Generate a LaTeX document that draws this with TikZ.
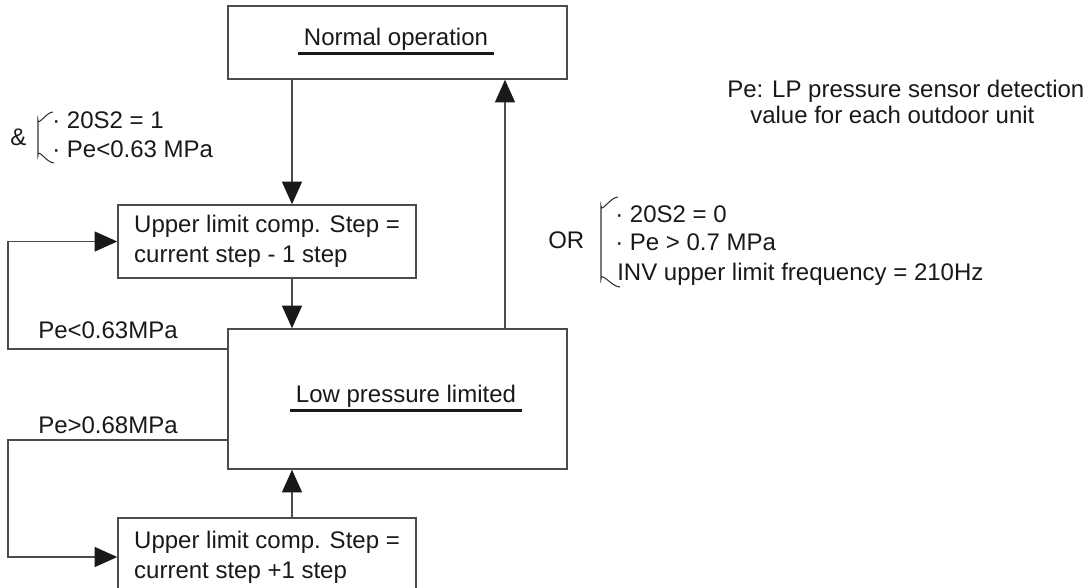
\documentclass[tikz,border=0pt]{standalone}
\usepackage{fontspec}
\setmainfont{Liberation Sans}
\usetikzlibrary{arrows.meta}

\tikzset{
	box/.style={draw=black!70, line width=1.1pt, rectangle, inner sep=0pt, align=left, text=black!90},
	flow/.style={draw=black!70, line width=1pt, -{Triangle[length=17pt,width=15pt,color=black!90]}},
	txt/.style={anchor=base west, inner sep=0pt, text=black!90},
	title/.style={anchor=base, inner xsep=4pt, inner ysep=2.25pt, text=black!90},
	uline/.style={line width=2.2pt, black!90},
	brace/.style={draw=black!80, line width=0.8pt},
}

\begin{document}
\begin{tikzpicture}[x=0.75pt,y=0.75pt,yscale=-1,xscale=1,font=\fontsize{18}{22.5}\selectfont]
				\useasboundingbox (0,0) rectangle (1091,587);

				%Shape: Rectangle [normal]
				\node [box, minimum width=254.25pt, minimum height=54.75pt] (normal) at (397.5,42.5) {};
				%Shape: Rectangle [downstep]
				\node [box, minimum width=223.5pt, minimum height=54.75pt] (downstep) at (267,241.5) {Upper limit comp. Step =\\current step - 1 step};
				%Shape: Rectangle [low]
				\node [box, minimum width=254.25pt, minimum height=105pt] (low) at (397.5,399) {};
				%Shape: Rectangle [upstep]
				\node [box, minimum width=223.5pt, minimum height=58.5pt] (upstep) at (267,557) {Upper limit comp. Step =\\current step +1 step};

				% Text Node
				\node [title] (normaltxt) at (396,45) {Normal operation};
				\draw [uline] (normaltxt.south west) -- (normaltxt.south east);
				% Text Node
				\node [title] (lowtxt) at (406,402) {Low pressure limited};
				\draw [uline] (lowtxt.south west) -- (lowtxt.south east);

				% corner points of the side loops
				\coordinate (xa) at (292,0);
				\coordinate (xb) at (505,0);
				\coordinate (lc) at (8,349);
				\coordinate (hc) at (8,440);

				%Straight Lines
				\draw [flow] (normal.south -| xa) -- (downstep.north -| xa);
				\draw [flow] (downstep.south -| xa) -- (low.north -| xa);
				\draw [flow] (upstep.north -| xa) -- (low.south -| xa);
				\draw [flow] (low.north -| xb) -- (normal.south -| xb);
				\draw [flow] (low.west |- lc) -- (lc) |- (downstep.west);
				\draw [flow] (low.west |- hc) -- (hc) |- (upstep.west);

				% Text Node
				\node [txt] (lowlbl) at (38,338) {Pe<0.63MPa};
				% Text Node
				\node [txt] (highlbl) at (38,433) {Pe>0.68MPa};

				% entry condition
				\node [txt] (amp) at (10,145) {\&};
				\draw [brace] (53,112) to[out=180,in=90] (38,120) -- (38,155) to[out=-90,in=180] (54,163);
				\node [txt] (entry1) at (52,128) {· 20S2 = 1};
				\node [txt] (entry2) at (52,157) {· Pe<0.63 MPa};

				% exit condition
				\node [txt] (orlbl) at (548,248) {OR};
				\draw [brace] (618,197) to[out=180,in=90] (601,206) -- (601,279) to[out=-90,in=180] (620,287);
				\node [txt] (exit1) at (615,222) {· 20S2 = 0};
				\node [txt] (exit2) at (615,250) {· Pe > 0.7 MPa};
				\node [txt] (exit3) at (617,280) {INV upper limit frequency = 210Hz};

				% Text Node
				\node [txt] (note1) at (727,97) {Pe: LP pressure sensor detection};
				\node [txt] (note2) at (750,123) {value for each outdoor unit};

			\end{tikzpicture}
\end{document}
